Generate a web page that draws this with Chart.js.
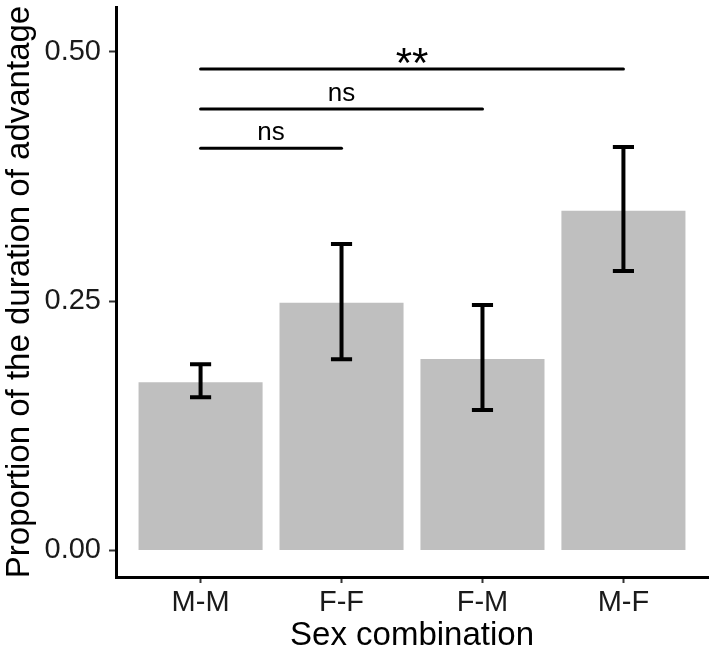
<!DOCTYPE html>
<html>
<head>
<meta charset="utf-8">
<script src="https://cdn.jsdelivr.net/npm/chart.js@4/dist/chart.umd.min.js"></script>
<style>
  html, body { margin: 0; padding: 0; background: #fff; }
  #wrap { width: 711px; height: 662px; }
</style>
</head>
<body>
<div id="wrap"><canvas id="myChart" width="711" height="662"></canvas></div>
<script>
// data
var categories = ['M-M', 'F-F', 'F-M', 'M-F'];
var means = [0.1686, 0.2484, 0.1920, 0.3406];
var errLow = [0.1536, 0.1917, 0.1408, 0.2802];
var errHigh = [0.1866, 0.3072, 0.2461, 0.4045];
var yTicks = [0, 0.25, 0.5];
var yTickLabels = ['0.00', '0.25', '0.50'];

// significance brackets (category index, 0-based)
var bracketFrom = [0, 0, 0];
var bracketTo = [1, 2, 3];
var bracketY = [0.4032, 0.4426, 0.4827];
var bracketLabel = ['ns', 'ns', '**'];

var FONT = '"Liberation Sans", Arial, Helvetica, sans-serif';

var barData = categories.map(function(c, i) {
    return { x: i + 1, y: means[i] };
});

var annotations = {
    id: 'annotations',
    afterDatasetsDraw: function(chart) {
        var ctx = chart.ctx;
        var xs = chart.scales.x;
        var ys = chart.scales.y;
        ctx.save();
        // error bars
        ctx.strokeStyle = '#000';
        ctx.lineWidth = 4;
        ctx.lineCap = 'butt';
        for (var i = 0; i < categories.length; i++) {
            var cx = xs.getPixelForValue(i + 1);
            var hw = xs.getPixelForValue(i + 1.075) - cx;
            var yl = ys.getPixelForValue(errLow[i]);
            var yh = ys.getPixelForValue(errHigh[i]);
            ctx.beginPath();
            ctx.moveTo(cx, yl);
            ctx.lineTo(cx, yh);
            ctx.moveTo(cx - hw, yh);
            ctx.lineTo(cx + hw, yh);
            ctx.moveTo(cx - hw, yl);
            ctx.lineTo(cx + hw, yl);
            ctx.stroke();
        }
        // brackets
        ctx.lineWidth = 3;
        ctx.lineCap = 'round';
        ctx.fillStyle = '#000';
        ctx.textAlign = 'center';
        ctx.textBaseline = 'alphabetic';
        for (var j = 0; j < bracketY.length; j++) {
            var x1 = xs.getPixelForValue(bracketFrom[j] + 1);
            var x2 = xs.getPixelForValue(bracketTo[j] + 1);
            var y = ys.getPixelForValue(bracketY[j]);
            ctx.beginPath();
            ctx.moveTo(x1, y);
            ctx.lineTo(x2, y);
            ctx.stroke();
            if (bracketLabel[j] === '**') {
                ctx.font = '42px ' + FONT;
                ctx.fillText(bracketLabel[j], (x1 + x2) / 2, y + 8);
            } else {
                ctx.font = '26px ' + FONT;
                ctx.fillText(bracketLabel[j], (x1 + x2) / 2, y - 8);
            }
        }
        ctx.restore();
    }
};

const ctx = document.getElementById('myChart').getContext('2d');
var myChart = new Chart(ctx, {
    type: 'bar',
    data: {
        datasets: [{
            data: barData,
            backgroundColor: '#bfbfbf',
            borderWidth: 0,
            barPercentage: 0.88,
            categoryPercentage: 1.0
        }]
    },
    plugins: [annotations],
    options: {
        responsive: false,
        animation: false,
        layout: {
            padding: { left: 0, right: 3, top: 7, bottom: 0 }
        },
        plugins: {
            legend: { display: false },
            tooltip: { enabled: false }
        },
        scales: {
            x: {
                type: 'linear',
                offset: false,
                min: 0.4,
                max: 4.6,
                afterBuildTicks: function(scale) {
                    scale.ticks = categories.map(function(c, i) { return { value: i + 1 }; });
                },
                afterFit: function(scale) {
                    scale.height = 85;
                    scale.paddingLeft = 0;
                    scale.paddingRight = 0;
                },
                ticks: {
                    callback: function(value) { return categories[value - 1]; },
                    color: '#1a1a1a',
                    font: { family: FONT, size: 29 },
                    padding: 3,
                    maxRotation: 0,
                    autoSkip: false
                },
                grid: {
                    offset: false,
                    drawOnChartArea: false,
                    drawTicks: true,
                    tickLength: 6,
                    tickWidth: 2,
                    color: '#333'
                },
                border: { display: true, color: '#000', width: 3 },
                title: {
                    display: true,
                    text: 'Sex combination',
                    color: '#000',
                    font: { family: FONT, size: 33 },
                    padding: { top: 0, bottom: 6 }
                }
            },
            y: {
                type: 'linear',
                min: -0.0266,
                max: 0.5448,
                afterBuildTicks: function(scale) {
                    scale.ticks = yTicks.map(function(v) { return { value: v }; });
                },
                afterFit: function(scale) {
                    scale.width = 116;
                    scale.paddingTop = 0;
                    scale.paddingBottom = 0;
                },
                ticks: {
                    callback: function(value) { return yTickLabels[yTicks.indexOf(value)]; },
                    color: '#1a1a1a',
                    font: { family: FONT, size: 29 },
                    padding: 8
                },
                grid: {
                    drawOnChartArea: false,
                    drawTicks: true,
                    tickLength: 7,
                    tickWidth: 2,
                    color: '#333'
                },
                border: { display: true, color: '#000', width: 3 },
                title: {
                    display: true,
                    text: 'Proportion of the duration of advantage',
                    color: '#000',
                    font: { family: FONT, size: 33 },
                    padding: { top: 0, bottom: 0 }
                }
            }
        }
    }
});
</script>
</body>
</html>
